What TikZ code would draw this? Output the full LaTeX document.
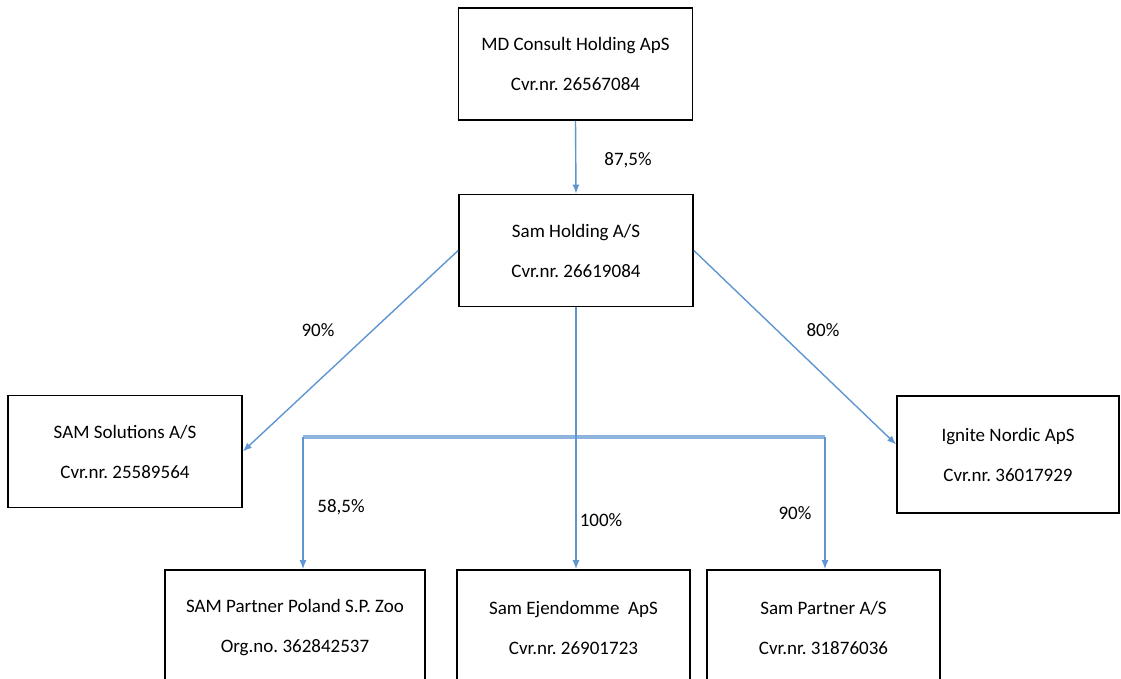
\documentclass[tikz,border=0pt]{standalone}
\usepackage{fontspec}
\setmainfont{Carlito}
\frenchspacing
\usetikzlibrary{arrows.meta,calc}
\definecolor{linkblue}{RGB}{95,150,210}
\definecolor{busblue}{RGB}{140,180,220}
\begin{document}
\begin{tikzpicture}[x=1pt,y=-1pt,
  box/.style={draw=black,line width=1.7pt,fill=white,minimum width=234pt,minimum height=112pt,inner sep=0pt,align=center,font=\fontsize{19}{40}\selectfont},
  link/.style={draw=linkblue,line width=1.4pt},
  arr/.style={link,-{Latex[length=9pt,width=7pt]}},
  pct/.style={font=\fontsize{19}{20}\selectfont,inner sep=0pt}]
\useasboundingbox (0,0) rectangle (1121,678);
\clip (0,0) rectangle (1121,678);
\fill[white] (0,0) rectangle (1121,678);
% boxes
\node[box] (md) at (575.5,64) {MD Consult Holding ApS\\Cvr.nr. 26567084};
\node[box] (sh) at (576,250.5) {Sam Holding A/S\\Cvr.nr. 26619084};
\node[box] (sol) at (125,451.5) {SAM Solutions A/S\\Cvr.nr. 25589564};
\node[box,minimum width=222pt,minimum height=117pt] (ign) at (1008,454.5) {Ignite Nordic ApS\\Cvr.nr. 36017929};
\node[box,minimum width=260pt,minimum height=116pt] (pol) at (295,628) {SAM Partner Poland S.P. Zoo\\Org.no. 362842537};
\node[box,minimum width=233pt,minimum height=116pt] (eje) at (573.5,628) {Sam Ejendomme\ \ ApS\\Cvr.nr. 26901723};
\node[box,minimum width=233pt,minimum height=116pt] (par) at (823.5,628) {Sam Partner A/S\\Cvr.nr. 31876036};
% connectors
\draw[arr] (md.south) -- (sh.north);
\draw[arr] (sh.west) -- (sol.east);
\draw[arr] (sh.east) -- ([yshift=10pt]ign.west);
\coordinate (busL) at (303,437);
\coordinate (busR) at (825,437);
\draw[draw=busblue,line width=3.5pt] (busL) -- (busR);
\draw[arr] (sh.south) -- (sh.south |- eje.north);
\draw[arr] (busL) -- (busL |- pol.north);
\draw[arr] (busR) -- (busR |- par.north);
% labels
\node[pct] (l1) at (628,160) {87,5\%};
\node[pct] (l2) at (318,330) {90\%};
\node[pct] (l3) at (823,330) {80\%};
\node[pct] (l4) at (341,507) {58,5\%};
\node[pct] (l5) at (601,520) {100\%};
\node[pct] (l6) at (795,513) {90\%};
\end{tikzpicture}
\end{document}
